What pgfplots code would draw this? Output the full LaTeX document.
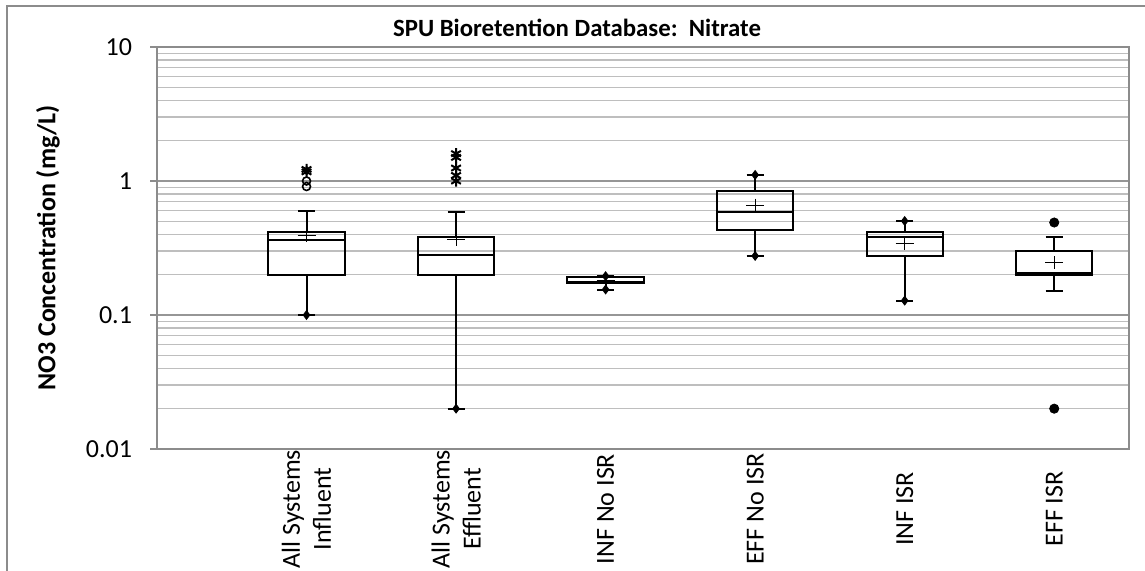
\documentclass[border=0pt]{standalone}
\usepackage{fontspec}
\setmainfont{Carlito}
\usepackage{pgfplots}
\pgfplotsset{compat=1.18}
\usepgfplotslibrary{statistics}
\definecolor{gridmaj}{RGB}{150,150,150}
\definecolor{gridmin}{RGB}{190,190,190}
\definecolor{axgray}{RGB}{140,140,140}
\begin{document}
\begin{tikzpicture}[x=1pt,y=1pt]
\path[use as bounding box] (0,0) rectangle (572.5,285.5);
\draw[axgray, line width=1pt] (3.5,0) -- (3.5,282.5) -- (572.5,282.5);
\node[font=\fontsize{12.4}{14}\selectfont\bfseries] at (288.5,271.5) {SPU Bioretention Database:~~Nitrate};
\node[rotate=90, font=\fontsize{13}{15}\selectfont\bfseries] at (24,161.5) {NO3 Concentration (mg/L)};
\begin{axis}[
  at={(78.5pt,61pt)}, anchor=south west,
  scale only axis, width=486pt, height=201pt,
  ymode=log, ymin=0.01, ymax=10,
  xmin=0, xmax=6.5,
  boxplot/draw direction=y,
  xtick={1,2,3,4,5,6},
  xticklabels={{All Systems\\Influent},{All Systems\\Effluent},INF No ISR,EFF No ISR,INF ISR,EFF ISR},
  xticklabel style={yshift=-26.5pt, rotate=90, anchor=center, align=center, font=\fontsize{13}{15.5}\selectfont},
  xtick style={draw=none},
  ytick={0.01,0.1,1,10},
  yticklabels={0.01,0.1,1,10},
  minor ytick={0.02,0.03,0.04,0.05,0.06,0.07,0.08,0.09,0.2,0.3,0.4,0.5,0.6,0.7,0.8,0.9,2,3,4,5,6,7,8,9},
  yticklabel style={font=\fontsize{13}{15}\selectfont, xshift=-5.5pt},
  ytick pos=left,
  tick align=outside,
  major tick length=3.5pt,
  minor tick length=0pt,
  ytick style={axgray, line width=0.8pt},
  ymajorgrids, yminorgrids,
  major grid style={gridmaj, line width=0.6pt},
  minor grid style={gridmin, line width=0.6pt},
  axis line style={axgray, line width=0.8pt},
  clip=false,
]
% box plots
\addplot[black, line width=1pt, boxplot prepared={draw position=1, lower whisker=0.1, lower quartile=0.198, median=0.36, upper quartile=0.416, upper whisker=0.597, box extend=0.51, whisker extend=0.114}] coordinates {};
\addplot[black, line width=1pt, boxplot prepared={draw position=2, lower whisker=0.02, lower quartile=0.198, median=0.279, upper quartile=0.38, upper whisker=0.584, box extend=0.51, whisker extend=0.114}] coordinates {};
\addplot[black, line width=1pt, boxplot prepared={draw position=3, lower whisker=0.155, lower quartile=0.172, median=0.175, upper quartile=0.191, upper whisker=0.195, box extend=0.51, whisker extend=0.114}] coordinates {};
\addplot[black, line width=1pt, boxplot prepared={draw position=4, lower whisker=0.276, lower quartile=0.431, median=0.584, upper quartile=0.847, upper whisker=1.11, box extend=0.51, whisker extend=0.114}] coordinates {};
\addplot[black, line width=1pt, boxplot prepared={draw position=5, lower whisker=0.128, lower quartile=0.277, median=0.38, upper quartile=0.416, upper whisker=0.503, box extend=0.51, whisker extend=0.114}] coordinates {};
\addplot[black, line width=1pt, boxplot prepared={draw position=6, lower whisker=0.15, lower quartile=0.198, median=0.205, upper quartile=0.299, upper whisker=0.38, box extend=0.51, whisker extend=0.114}] coordinates {};
% means
\addplot[only marks, mark=+, mark size=4.5pt, line width=0.5pt, black, mark options={yscale=0.72}] coordinates {(1,0.389) (2,0.367) (3,0.182) (4,0.662) (5,0.344) (6,0.246)};
% diamonds at whisker ends
\addplot[only marks, mark=diamond*, mark size=2.2pt, black] coordinates {(1,0.1) (2,0.02) (3,0.195) (3,0.155) (4,1.11) (4,0.276) (5,0.503) (5,0.128)};
% outliers
\addplot[only marks, mark=o, mark size=2pt, line width=0.8pt, black] coordinates {(1,1.0) (1,0.91)};
\addplot[only marks, mark=asterisk, mark size=2.8pt, line width=1pt, black] coordinates {(1,1.22) (1,1.17) (2,1.6) (2,1.5) (2,1.25) (2,1.1) (2,1.0)};
\addplot[only marks, mark=*, mark size=2.3pt, black] coordinates {(6,0.49) (6,0.02)};
\end{axis}
\end{tikzpicture}
\end{document}
